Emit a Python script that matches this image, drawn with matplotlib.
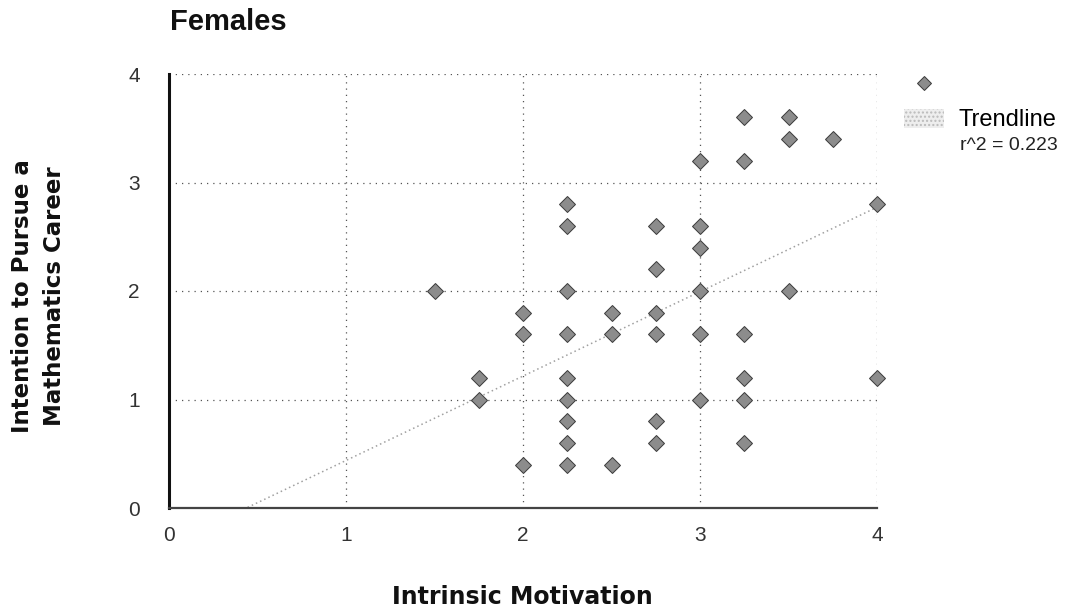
import matplotlib
matplotlib.use('Agg')
import matplotlib.pyplot as plt
from matplotlib.lines import Line2D
from matplotlib.patches import Patch

# points (x = intrinsic motivation, y = intention score)
motivation = [1.5,
              1.75, 1.75,
              2.0, 2.0, 2.0,
              2.25, 2.25, 2.25, 2.25, 2.25, 2.25, 2.25, 2.25, 2.25,
              2.5, 2.5, 2.5,
              2.75, 2.75, 2.75, 2.75, 2.75, 2.75,
              3.0, 3.0, 3.0, 3.0, 3.0, 3.0,
              3.25, 3.25, 3.25, 3.25, 3.25, 3.25,
              3.5, 3.5, 3.5,
              3.75,
              4.0, 4.0]
intention = [2.0,
             1.2, 1.0,
             1.8, 1.6, 0.4,
             2.8, 2.6, 2.0, 1.6, 1.2, 1.0, 0.8, 0.6, 0.4,
             1.8, 1.6, 0.4,
             2.6, 2.2, 1.8, 1.6, 0.8, 0.6,
             3.2, 2.6, 2.4, 2.0, 1.6, 1.0,
             3.6, 3.2, 1.6, 1.2, 1.0, 0.6,
             3.6, 3.4, 2.0,
             3.4,
             2.8, 1.2]

# trendline as drawn in the chart
trend_slope = 0.778
trend_intercept = -0.34
r_squared = 0.223
ticks = [0, 1, 2, 3, 4]

fig = plt.figure(figsize=(10.76, 6.09), dpi=100)
ax = fig.add_axes([169 / 1076, 1 - 508 / 609, 708 / 1076, 434 / 609])

ax.grid(True, linestyle=(0, (1, 4)), color='#555555', linewidth=0.9)
ax.set_axisbelow(True)

tx = [0, 4]
ty = [trend_intercept + trend_slope * v for v in tx]
ax.plot(tx, ty, linestyle=(0, (1, 2)), color='#a0a0a0', linewidth=1.1, zorder=2)

ax.plot(motivation, intention, linestyle='none', marker='D', markersize=8.5,
        markerfacecolor='#8c8c8c', markeredgecolor='#3a3a3a', markeredgewidth=0.7,
        zorder=3, clip_on=False)

ax.set_xlim(0, 4)
ax.set_ylim(0, 4)
ax.set_xticks(ticks)
ax.set_yticks(ticks)
ax.tick_params(length=0, labelsize=15, labelcolor='#333333')
ax.tick_params(axis='x', pad=13)
ax.tick_params(axis='y', pad=21)
for lab in ax.get_xticklabels() + ax.get_yticklabels():
    lab.set_family('Liberation Sans')

ax.spines['top'].set_visible(False)
ax.spines['right'].set_visible(False)
ax.spines['left'].set_linewidth(2.2)
ax.spines['left'].set_color('#111111')
ax.spines['bottom'].set_linewidth(1.6)
ax.spines['bottom'].set_color('#444444')

fig.text(170 / 1076, 1 - 22 / 609, 'Females', fontsize=21, fontweight='bold',
         family='Liberation Sans', color='#111111', ha='left', va='center')
fig.text(522 / 1076, 1 - 597 / 609, 'Intrinsic Motivation', fontsize=17,
         fontweight='bold', color='#111111', ha='center', va='center')
fig.text(39 / 1076, 1 - 296 / 609, 'Intention to Pursue a\nMathematics Career',
         fontsize=16.5, fontweight='bold', color='#111111', rotation=90,
         ha='center', va='center', linespacing=1.5)

# legend: marker row, trendline row, then r^2 text
handles = [Line2D([], [], linestyle='none', marker='D', markersize=7.5,
                  markerfacecolor='#8c8c8c', markeredgecolor='#3a3a3a',
                  markeredgewidth=0.7),
           Patch(facecolor='#eeeeee', edgecolor='#bbbbbb', hatch='....', linewidth=0)]
leg = fig.legend(handles, [' ', 'Trendline'], loc='upper left',
                 bbox_to_anchor=(892 / 1076, 1 - 62 / 609), frameon=False,
                 prop={'family': 'Liberation Sans', 'size': 17},
                 handlelength=1.7, handleheight=0.85, handletextpad=0.6,
                 labelspacing=0.52, borderpad=0)
fig.text(960 / 1076, 1 - 146 / 609, f'r^2 = {r_squared:.3f}',
         fontsize=14, family='Liberation Sans', color='#222222', ha='left', va='center')

fig.savefig('out.png', dpi=100)
